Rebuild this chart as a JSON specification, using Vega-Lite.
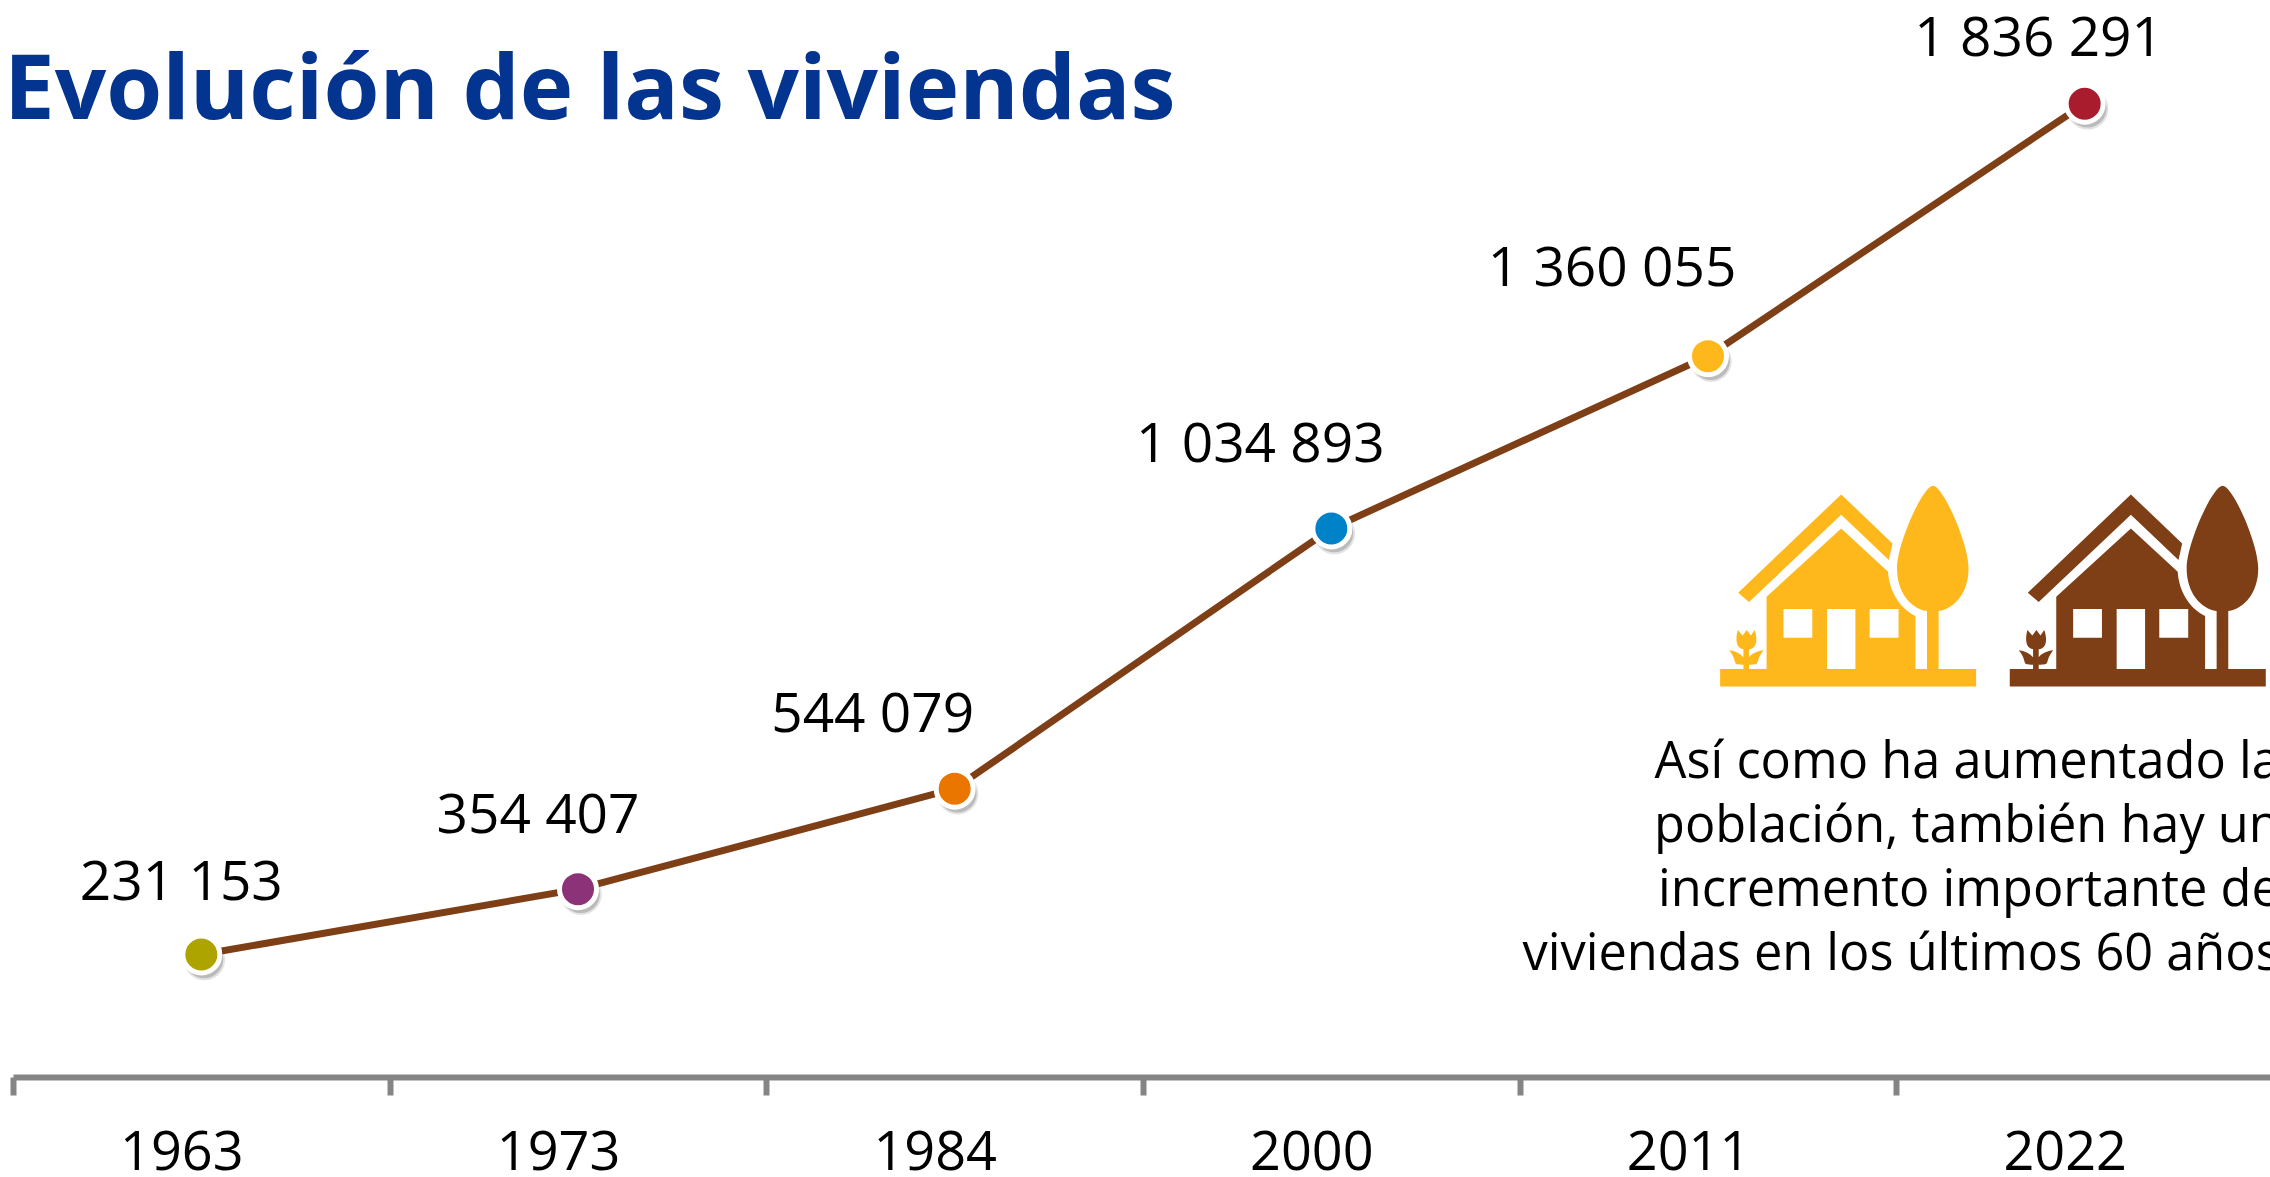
{
"$schema":"https://vega.github.io/schema/vega-lite/v6.json",
"width":2260,"height":1060,
"autosize":"none",
"padding":{"left":13,"top":17,"right":0,"bottom":100},
"background":"white",
"title":{"text":"Evolución de las viviendas","anchor":"start","frame":"group","font":"Open Sans","fontWeight":"bold","fontSize":90.5,"color":"#03348F","offset":0,"dx":-9,"dy":127},
"datasets":{
"viviendas":[
{"year":"1963","viviendas":231153,"label":"231 153"},
{"year":"1973","viviendas":354407,"label":"354 407"},
{"year":"1984","viviendas":544079,"label":"544 079"},
{"year":"2000","viviendas":1034893,"label":"1 034 893"},
{"year":"2011","viviendas":1360055,"label":"1 360 055"},
{"year":"2022","viviendas":1836291,"label":"1 836 291"}],
"iconos":[{"icono":"amarillo","pos":4.872,"nivel":927000},{"icono":"cafe","pos":5.641,"nivel":927000}],
"nota":[{"texto":"Así como ha aumentado la\npoblación, también hay un\nincremento importante de\nviviendas en los últimos 60 años","pos":6.018,"nivel":563500}]
},
"data":{"name":"viviendas"},
"encoding":{
"x":{"field":"year","type":"nominal","title":null,"sort":null,"scale":{"type":"band","domain":["1963","1973","1984","2000","2011","2022"],"paddingInner":0,"paddingOuter":0},"axis":null},
"y":{"field":"viviendas","type":"quantitative","title":null,"scale":{"domain":[0,2000000],"nice":false},"axis":null}
},
"layer":[
{"mark":{"type":"line","color":"#7F3F16","strokeWidth":7},
 "encoding":{"x":{"field":"year","type":"nominal","title":null,"sort":null,"scale":{"type":"band","domain":["1963","1973","1984","2000","2011","2022"],"paddingInner":0,"paddingOuter":0},
 "axis":{"orient":"bottom","offset":0,"domainColor":"#858585","domainWidth":6,"tickColor":"#858585","tickWidth":6,"tickSize":18,"tickBand":"extent","labelAngle":0,"labelFont":"Open Sans","labelFontSize":54,"labelColor":"#000000","labelPadding":74,"labelOffset":-20,"labelBaseline":"alphabetic","labelFlush":false,"grid":false}}}},
{"mark":{"type":"point","filled":true,"color":"#444444","opacity":0.15,"size":1700,"strokeWidth":0,"shape":"M1.15,.25 A1,1 0 1 1 -.85,.25 A1,1 0 1 1 1.15,.25 Z"}},
{"mark":{"type":"point","filled":true,"color":"#444444","opacity":0.25,"size":1450,"strokeWidth":0,"shape":"M1.15,.25 A1,1 0 1 1 -.85,.25 A1,1 0 1 1 1.15,.25 Z"}},
{"mark":{"type":"point","filled":true,"size":1369,"stroke":"white","strokeWidth":5,"opacity":1},
 "encoding":{"fill":{"field":"year","type":"nominal","sort":null,"legend":null,"scale":{"domain":["1963","1973","1984","2000","2011","2022"],"range":["#AEA400","#8C3278","#EA7600","#0082C8","#FFB81C","#A91C2E"]}}}},
{"transform":[{"filter":"datum.year=='1963'"}],"mark":{"type":"text","font":"Open Sans","fontSize":55,"color":"#000000","baseline":"alphabetic","dx":-20,"dy":-54},"encoding":{"text":{"field":"label"}}},
{"transform":[{"filter":"datum.year=='1973'"}],"mark":{"type":"text","font":"Open Sans","fontSize":55,"color":"#000000","baseline":"alphabetic","dx":-40,"dy":-56},"encoding":{"text":{"field":"label"}}},
{"transform":[{"filter":"datum.year=='1984'"}],"mark":{"type":"text","font":"Open Sans","fontSize":55,"color":"#000000","baseline":"alphabetic","dx":-82,"dy":-57},"encoding":{"text":{"field":"label"}}},
{"transform":[{"filter":"datum.year=='2000'"}],"mark":{"type":"text","font":"Open Sans","fontSize":55,"color":"#000000","baseline":"alphabetic","dx":-71,"dy":-67},"encoding":{"text":{"field":"label"}}},
{"transform":[{"filter":"datum.year=='2011'"}],"mark":{"type":"text","font":"Open Sans","fontSize":55,"color":"#000000","baseline":"alphabetic","dx":-96,"dy":-70},"encoding":{"text":{"field":"label"}}},
{"transform":[{"filter":"datum.year=='2022'"}],"mark":{"type":"text","font":"Open Sans","fontSize":55,"color":"#000000","baseline":"alphabetic","dx":-46,"dy":-48},"encoding":{"text":{"field":"label"}}},
{"data":{"name":"iconos"},
 "mark":{"type":"point","filled":true,"opacity":1,"size":65536,"strokeWidth":0,
 "shape":"M-1,.65 L-.818,.65 L-.818,.617 C-.868,.617 -.877,.614 -.883,.598 C-.889,.58 -.897,.541 -.93,.505 C-.884,.51 -.845,.528 -.818,.559 L-.818,.497 C-.88,.489 -.88,.411 -.862,.346 L-.824,.39 L-.792,.346 L-.76,.39 L-.731,.346 C-.707,.411 -.707,.489 -.774,.497 L-.774,.559 C-.751,.528 -.707,.51 -.66,.505 C-.692,.541 -.701,.58 -.707,.598 C-.713,.614 -.728,.617 -.774,.617 L-.774,.65 L1,.65 L1,.788 L-1,.788 Z M-.637,.65 L-.637,.086 L-.054,-.447 L.312,-.109 C.321,.047 .406,.177 .526,.237 L.526,.65 Z M-.505,.182 L-.505,.406 L-.28,.406 L-.28,.182 Z M.168,.182 L.168,.406 L.394,.406 L.394,.182 Z M-.165,.182 L-.165,.65 L.057,.65 L.057,.182 Z M-.859,.055 L-.054,-.713 L.347,-.33 L.318,-.2 L-.054,-.554 L-.774,.127 Z M.663,-.78 C.742,-.78 .941,-.33 .941,-.135 C.941,.047 .839,.177 .707,.198 L.707,.65 L.616,.65 L.616,.198 C.485,.177 .382,.047 .382,-.135 C.382,-.33 .584,-.78 .663,-.78 Z"},
 "encoding":{
 "x":{"field":"pos","type":"quantitative","title":null,"scale":{"domain":[0,6],"nice":false,"zero":false},"axis":null},
 "y":{"field":"nivel","type":"quantitative","title":null},
 "fill":{"field":"icono","type":"nominal","legend":null,"scale":{"domain":["amarillo","cafe"],"range":["#FFB81C","#7F3F16"]}}}},
{"data":{"name":"nota"},
 "mark":{"type":"text","font":"Open Sans","fontSize":50.5,"color":"#000000","align":"right","baseline":"alphabetic","lineBreak":"\n","lineHeight":64},
 "encoding":{
 "x":{"field":"pos","type":"quantitative","title":null,"scale":{"domain":[0,6],"nice":false,"zero":false},"axis":null},
 "y":{"field":"nivel","type":"quantitative","title":null},
 "text":{"field":"texto"}}}
],
"resolve":{"scale":{"x":"independent","fill":"independent"}},
"config":{"view":{"stroke":null}}
}
